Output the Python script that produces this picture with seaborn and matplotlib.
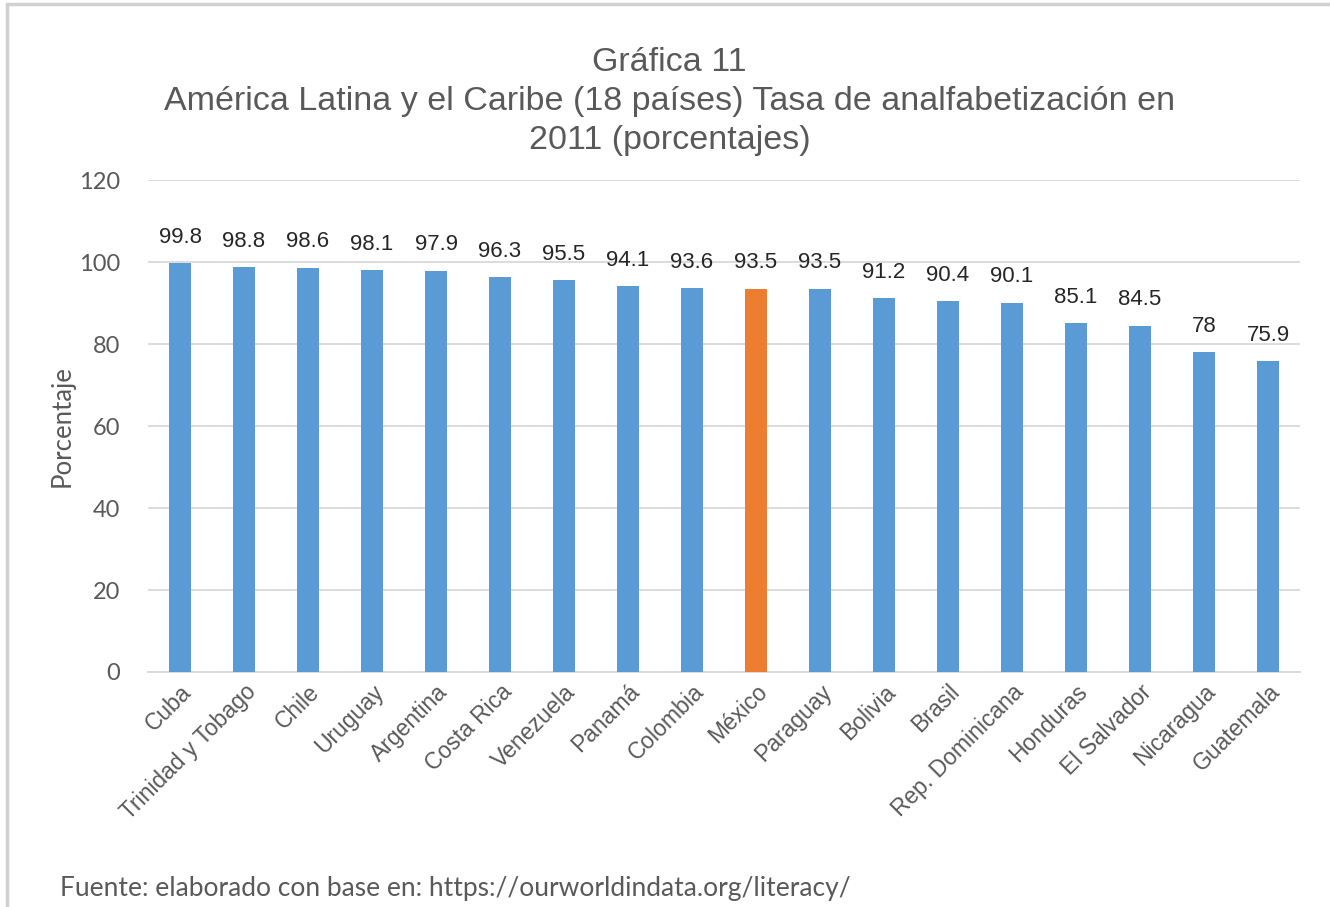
import matplotlib
matplotlib.use("Agg")
import matplotlib.pyplot as plt
import seaborn as sns
import pandas as pd
from matplotlib.lines import Line2D

paises = ["Cuba", "Trinidad y Tobago", "Chile", "Uruguay", "Argentina", "Costa Rica",
          "Venezuela", "Panamá", "Colombia", "México", "Paraguay", "Bolivia", "Brasil",
          "Rep. Dominicana", "Honduras", "El Salvador", "Nicaragua", "Guatemala"]
tasas = [99.8, 98.8, 98.6, 98.1, 97.9, 96.3, 95.5, 94.1, 93.6, 93.5, 93.5, 91.2,
         90.4, 90.1, 85.1, 84.5, 78, 75.9]
etiquetas = ["99.8", "98.8", "98.6", "98.1", "97.9", "96.3", "95.5", "94.1", "93.6",
             "93.5", "93.5", "91.2", "90.4", "90.1", "85.1", "84.5", "78", "75.9"]
destacado = "México"
y_ticks = [0, 20, 40, 60, 80, 100, 120]

titulo = "Gráfica 11\nAmérica Latina y el Caribe (18 países) Tasa de analfabetización en\n2011 (porcentajes)"
fuente = "Fuente: elaborado con base en: https://ourworldindata.org/literacy/"

AZUL = "#5B9BD5"
NARANJA = "#ED7D31"
GRIS = "#595959"
REJILLA = "#D9D9D9"

df = pd.DataFrame({"pais": paises, "tasa": tasas})
df["grupo"] = ["sí" if p == destacado else "no" for p in paises]

sns.set_theme(style="white")
plt.rcParams["font.family"] = ["Liberation Sans", "DejaVu Sans"]

fig = plt.figure(figsize=(13.3, 9.07), dpi=100)
ax = fig.add_axes([0.1113, 0.2591, 0.8661, 0.5424])

sns.barplot(data=df, x="pais", y="tasa", hue="grupo",
            palette={"no": AZUL, "sí": NARANJA}, dodge=False, saturation=1,
            width=0.33, legend=False, ax=ax, zorder=3)

for patch in ax.patches:
    patch.set_edgecolor("none")

# Value labels above every bar
for i, (v, t) in enumerate(zip(tasas, etiquetas)):
    ax.annotate(t, xy=(i, v), xytext=(0, 11), textcoords="offset points",
                ha="center", va="bottom", fontsize=16, color="#262626")

ax.set_xlim(-0.5, len(paises) - 0.5)
ax.set_ylim(0, 120)
ax.set_yticks(y_ticks)
ax.set_yticklabels([str(v) for v in y_ticks], fontsize=17, color=GRIS,
                   family=["Lato", "DejaVu Sans"])
ax.yaxis.grid(True, color=REJILLA, linewidth=1.3, zorder=0)
ax.set_axisbelow(True)
ax.tick_params(axis="both", length=0)
ax.tick_params(axis="y", pad=20)
ax.tick_params(axis="x", pad=6)
for lab in ax.get_xticklabels():
    lab.set_rotation(45)
    lab.set_ha("right")
    lab.set_rotation_mode("anchor")
    lab.set_fontsize(16.5)
    lab.set_color(GRIS)

for s in ["top", "right", "left"]:
    ax.spines[s].set_visible(False)
ax.spines["bottom"].set_color(REJILLA)
ax.spines["bottom"].set_linewidth(1.3)

ax.set_xlabel("")
ax.set_ylabel("Porcentaje", fontsize=18.5, color=GRIS, family=["Lato", "DejaVu Sans"], labelpad=3)

fig.text(0.5035, 0.948, titulo, ha="center", va="top", fontsize=24.5, color=GRIS,
         linespacing=1.32)
fig.text(0.045, 0.007, fuente, ha="left", va="bottom", fontsize=19, color=GRIS,
         family=["Lato", "DejaVu Sans"])

# thin frame along the top and left edges
fig.add_artist(Line2D([0.0053, 1.0], [0.9956, 0.9956], transform=fig.transFigure,
                      color="#D0D0D0", linewidth=2.5))
fig.add_artist(Line2D([0.0053, 0.0053], [0.0, 0.9956], transform=fig.transFigure,
                      color="#D0D0D0", linewidth=2.5))

fig.savefig("out.png", dpi=100, facecolor="white")
